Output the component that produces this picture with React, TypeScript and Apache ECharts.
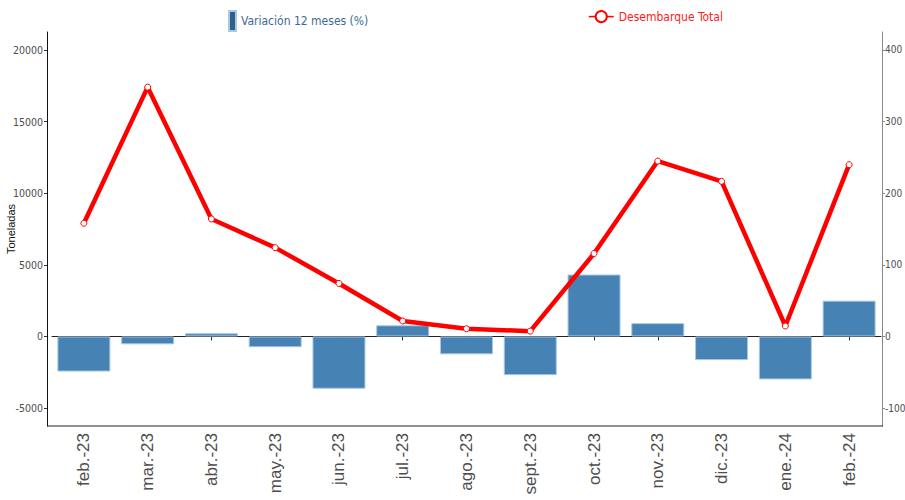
import React, { useEffect, useRef } from "react";
import * as echarts from "echarts";

const categories = [
  "feb.-23", "mar.-23", "abr.-23", "may.-23", "jun.-23", "jul.-23", "ago.-23",
  "sept.-23", "oct.-23", "nov.-23", "dic.-23", "ene.-24", "feb.-24",
];
// Variación 12 meses (%) — right axis
const variacion = [-49, -11, 4.5, -15, -73, 15.6, -25, -54, 86.5, 18.6, -33, -60, 50];
// Desembarque Total (toneladas) — left axis
const desembarque = [7900, 17400, 8200, 6200, 3700, 1080, 540, 370, 5790, 12240, 10830, 730, 11990];

const leftTicks = [-5000, 0, 5000, 10000, 15000, 20000];
const rightTicks = [-100, 0, 100, 200, 300, 400];

const NARROW = "'DejaVu Sans Condensed', 'Liberation Sans Narrow', 'Liberation Sans', sans-serif";

export default function App() {
  const ref = useRef<HTMLDivElement>(null);
  useEffect(() => {
    document.body.style.margin = "0";
    const chart = echarts.init(ref.current!, null, { renderer: "svg" });
    chart.setOption({
      animation: false,
      backgroundColor: "#ffffff",
      grid: { left: 52, width: 829, top: 32, height: 394, containLabel: false, outerBoundsMode: "none" },
      legend: [
        {
          left: 228,
          top: 10,
          padding: 0,
          icon: "rect",
          itemWidth: 7,
          itemHeight: 20,
          data: [{ name: "Variación 12 meses (%)", itemStyle: { color: "#2f5f8c" } }],
          textStyle: { color: "#3b6a96", fontSize: 12, fontFamily: NARROW },
        },
        {
          left: 588,
          top: 10,
          padding: 0,
          itemWidth: 25,
          itemHeight: 14,
          data: ["Desembarque Total"],
          lineStyle: { width: 1.5 },
          textStyle: { color: "#ff2020", fontSize: 12, fontFamily: NARROW },
        },
      ],
      xAxis: {
        type: "category",
        data: categories,
        boundaryGap: true,
        axisLine: { show: true, lineStyle: { color: "#222", width: 1 } },
        axisTick: { show: true, alignWithLabel: true, length: 4, lineStyle: { color: "#333" } },
        axisLabel: {
          rotate: 90,
          margin: 7,
          color: "#4d4d4d",
          fontSize: 17,
          fontFamily: "'Liberation Sans', Arial, sans-serif",
        },
        splitLine: { show: false },
      },
      yAxis: [
        {
          type: "value",
          min: -6250,
          max: 21250,
          position: "left",
          offset: 5,
          name: "Toneladas",
          nameLocation: "middle",
          nameRotate: 90,
          nameGap: 31,
          nameMoveOverlap: false,
          nameTextStyle: { color: "#111", fontSize: 11, fontFamily: "'Liberation Sans', Arial, sans-serif" },
          axisLine: { show: true, lineStyle: { color: "#111", width: 1 } },
          axisTick: { show: true, length: 3, customValues: leftTicks, lineStyle: { color: "#333" } },
          axisLabel: {
            customValues: leftTicks,
            formatter: (v: number) => String(v),
            margin: 4,
            color: "#4d4d4d",
            fontSize: 10.5,
            fontFamily: NARROW,
          },
          splitLine: { show: false },
        },
        {
          type: "value",
          min: -125,
          max: 425,
          position: "right",
          offset: 1,
          axisLine: { show: true, lineStyle: { color: "#888", width: 1 } },
          axisTick: { show: true, length: 3, customValues: rightTicks, lineStyle: { color: "#888" } },
          axisLabel: {
            customValues: rightTicks,
            formatter: (v: number) => String(v),
            margin: 3,
            color: "#4d4d4d",
            fontSize: 10,
            fontFamily: NARROW,
          },
          splitLine: { show: false },
        },
      ],
      graphic: [
        {
          type: "line",
          shape: { x1: 47, y1: 426, x2: 883, y2: 426 },
          style: { stroke: "#222", lineWidth: 1 },
          z: 10,
        },
      ],
      series: [
        {
          name: "Variación 12 meses (%)",
          type: "bar",
          yAxisIndex: 1,
          data: variacion,
          barWidth: 53,
          itemStyle: { color: "#4682b4", borderColor: "#a8c8e4", borderWidth: 1 },
          z: 2,
        },
        {
          name: "Desembarque Total",
          type: "line",
          yAxisIndex: 0,
          data: desembarque,
          symbol: "circle",
          symbolSize: 6,
          showSymbol: true,
          lineStyle: { color: "#ff0000", width: 4.5 },
          itemStyle: { color: "#ffffff", borderColor: "#ff0000", borderWidth: 1 },
          z: 3,
        },
      ],
    });
    return () => chart.dispose();
  }, []);
  return <div ref={ref} style={{ width: 905, height: 500 }} />;
}
